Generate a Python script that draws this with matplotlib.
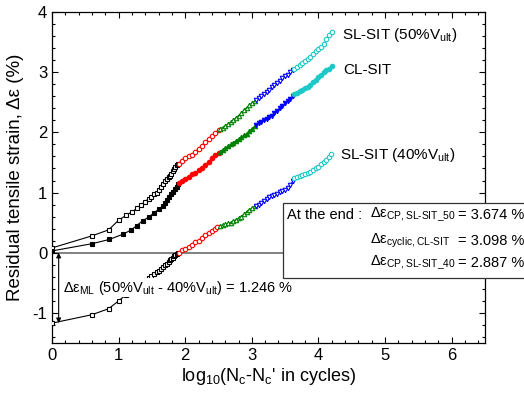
import matplotlib
matplotlib.use("Agg")
import matplotlib.pyplot as plt
from matplotlib.patches import Rectangle
from matplotlib.ticker import MultipleLocator

plt.rcParams['font.family'] = ['Liberation Sans', 'DejaVu Sans']
plt.rcParams['mathtext.fontset'] = 'custom'
plt.rcParams['mathtext.rm'] = 'Liberation Sans'
plt.rcParams['mathtext.it'] = 'Liberation Sans'
plt.rcParams['axes.unicode_minus'] = False

# ---------------- data (log10 cycles, residual strain %) ----------------
sl50_black_x = [0, 0.6, 0.85, 1.0, 1.11, 1.2, 1.28, 1.34, 1.4, 1.45, 1.49, 1.53, 1.57, 1.6, 1.64, 1.67, 1.7, 1.72, 1.75, 1.77, 1.79, 1.81, 1.83, 1.85, 1.87, 1.89]
sl50_black_y = [0.08, 0.28, 0.38, 0.54, 0.62, 0.68, 0.74, 0.80, 0.85, 0.90, 0.93, 0.97, 1.00, 1.05, 1.10, 1.15, 1.19, 1.22, 1.26, 1.28, 1.31, 1.35, 1.39, 1.43, 1.46, 1.48]
sl50_red_x = [1.9, 1.95, 2.0, 2.05, 2.1, 2.15, 2.2, 2.25, 2.3, 2.35, 2.4, 2.45, 2.5]
sl50_red_y = [1.48, 1.53, 1.57, 1.60, 1.63, 1.68, 1.73, 1.78, 1.84, 1.89, 1.94, 1.99, 2.04]
sl50_green_x = [2.52, 2.56, 2.6, 2.64, 2.68, 2.72, 2.76, 2.8, 2.84, 2.88, 2.92, 2.96, 3.0, 3.04]
sl50_green_y = [2.06, 2.08, 2.10, 2.14, 2.17, 2.20, 2.24, 2.28, 2.32, 2.37, 2.41, 2.45, 2.49, 2.52]
sl50_blue_x = [3.06, 3.1, 3.14, 3.18, 3.22, 3.26, 3.3, 3.34, 3.38, 3.42, 3.46, 3.5, 3.54, 3.58, 3.62]
sl50_blue_y = [2.54, 2.57, 2.61, 2.64, 2.67, 2.71, 2.75, 2.78, 2.82, 2.86, 2.90, 2.93, 2.96, 3.00, 3.04]
sl50_cyan_x = [3.64, 3.68, 3.72, 3.76, 3.8, 3.84, 3.88, 3.92, 3.96, 4.0, 4.04, 4.08, 4.12, 4.16, 4.2]
sl50_cyan_y = [3.06, 3.09, 3.12, 3.15, 3.18, 3.22, 3.26, 3.31, 3.35, 3.38, 3.42, 3.47, 3.55, 3.62, 3.674]

cl_black_x = [0, 0.6, 0.86, 1.07, 1.19, 1.27, 1.36, 1.45, 1.53, 1.61, 1.66, 1.7, 1.73, 1.76, 1.79, 1.82, 1.85, 1.87, 1.89]
cl_black_y = [0.03, 0.15, 0.22, 0.31, 0.38, 0.45, 0.53, 0.59, 0.66, 0.73, 0.77, 0.82, 0.87, 0.92, 0.97, 1.01, 1.06, 1.10, 1.15]
cl_red_x = [1.9, 1.95, 2.0, 2.05, 2.1, 2.15, 2.2, 2.25, 2.3, 2.35, 2.4, 2.45, 2.5]
cl_red_y = [1.16, 1.19, 1.23, 1.26, 1.30, 1.33, 1.37, 1.41, 1.46, 1.51, 1.57, 1.62, 1.66]
cl_green_x = [2.52, 2.56, 2.6, 2.64, 2.68, 2.72, 2.76, 2.8, 2.84, 2.88, 2.92, 2.96, 3.0, 3.04]
cl_green_y = [1.68, 1.71, 1.74, 1.77, 1.80, 1.83, 1.86, 1.89, 1.92, 1.95, 1.98, 2.02, 2.06, 2.10]
cl_blue_x = [3.06, 3.1, 3.14, 3.18, 3.22, 3.26, 3.3, 3.34, 3.38, 3.42, 3.46, 3.5, 3.54, 3.58, 3.62]
cl_blue_y = [2.12, 2.15, 2.18, 2.20, 2.23, 2.26, 2.28, 2.32, 2.36, 2.40, 2.44, 2.48, 2.52, 2.56, 2.61]
cl_cyan_x = [3.64, 3.68, 3.72, 3.76, 3.8, 3.84, 3.88, 3.92, 3.96, 4.0, 4.04, 4.08, 4.12, 4.16, 4.2]
cl_cyan_y = [2.63, 2.66, 2.69, 2.71, 2.74, 2.76, 2.79, 2.83, 2.87, 2.92, 2.96, 3.00, 3.03, 3.06, 3.098]

sl40_black_x = [0, 0.6, 0.85, 1.0, 1.11, 1.2, 1.28, 1.34, 1.4, 1.45, 1.49, 1.53, 1.57, 1.6, 1.64, 1.67, 1.7, 1.72, 1.75, 1.77, 1.79, 1.81, 1.83, 1.85, 1.87, 1.89]
sl40_black_y = [-1.17, -1.03, -0.93, -0.80, -0.70, -0.62, -0.55, -0.50, -0.46, -0.42, -0.39, -0.36, -0.32, -0.30, -0.27, -0.24, -0.20, -0.18, -0.15, -0.12, -0.10, -0.08, -0.06, -0.04, -0.02, 0.0]
sl40_red_x = [1.9, 1.95, 2.0, 2.05, 2.1, 2.15, 2.2, 2.25, 2.3, 2.35, 2.4, 2.45, 2.48]
sl40_red_y = [0.0, 0.04, 0.07, 0.10, 0.13, 0.17, 0.20, 0.25, 0.29, 0.32, 0.36, 0.40, 0.43]
sl40_green_x = [2.52, 2.56, 2.6, 2.64, 2.68, 2.72, 2.76, 2.8, 2.84, 2.88, 2.92, 2.96, 3.0, 3.04]
sl40_green_y = [0.45, 0.46, 0.47, 0.49, 0.50, 0.52, 0.55, 0.57, 0.60, 0.64, 0.68, 0.71, 0.74, 0.77]
sl40_blue_x = [3.06, 3.1, 3.14, 3.18, 3.22, 3.26, 3.3, 3.34, 3.38, 3.42, 3.46, 3.5, 3.54, 3.58, 3.62]
sl40_blue_y = [0.78, 0.80, 0.83, 0.86, 0.89, 0.92, 0.94, 0.96, 0.98, 1.01, 1.03, 1.05, 1.08, 1.12, 1.20]
sl40_cyan_x = [3.64, 3.68, 3.72, 3.76, 3.8, 3.84, 3.88, 3.92, 3.96, 4.0, 4.04, 4.08, 4.12, 4.16, 4.19]
sl40_cyan_y = [1.24, 1.26, 1.27, 1.29, 1.30, 1.32, 1.34, 1.37, 1.40, 1.43, 1.47, 1.50, 1.54, 1.59, 1.64]

end_labels = ["\u0394\u03b5$_\\mathrm{CP,SL\\text{-}SIT\\_50}$",
              "\u0394\u03b5$_\\mathrm{cyclic,CL\\text{-}SIT}$",
              "\u0394\u03b5$_\\mathrm{CP,SL\\text{-}SIT\\_40}$"]
end_values = [3.674, 3.098, 2.887]
ml_difference = 1.246

x_ticks = [0, 1, 2, 3, 4, 5, 6]
y_ticks = [-1, 0, 1, 2, 3, 4]

# ---------------- figure ----------------
fig = plt.figure(figsize=(5.24, 3.94), dpi=100)
ax = fig.add_axes([52/524, 1 - 343/394, (485-52)/524, (343-12)/394])
ax.set_xlim(0, 6.5)
ax.set_ylim(-1.5, 4)

ax.axhline(0, color='#808080', lw=1.4, zorder=1)

colors = {'black': 'black', 'red': '#ff0000', 'green': '#008000',
          'blue': '#0000ff', 'cyan': '#1ec8c8'}
markers = {'black': 's', 'red': 'o', 'green': '^', 'blue': 'v', 'cyan': 'o'}

def draw(xs, ys, key, filled, ms=3.2):
    c = colors[key]
    ax.plot(xs, ys, color=c, lw=0.8, marker=markers[key], ms=ms,
            mfc=c if filled else 'white', mec=c, mew=0.8, zorder=3)

for (xs, ys, key) in [(sl50_black_x, sl50_black_y, 'black'), (sl50_red_x, sl50_red_y, 'red'),
                      (sl50_green_x, sl50_green_y, 'green'), (sl50_blue_x, sl50_blue_y, 'blue'),
                      (sl50_cyan_x, sl50_cyan_y, 'cyan')]:
    draw(xs, ys, key, False)
for (xs, ys, key) in [(cl_black_x, cl_black_y, 'black'), (cl_red_x, cl_red_y, 'red'),
                      (cl_green_x, cl_green_y, 'green'), (cl_blue_x, cl_blue_y, 'blue'),
                      (cl_cyan_x, cl_cyan_y, 'cyan')]:
    draw(xs, ys, key, True)
for (xs, ys, key) in [(sl40_black_x, sl40_black_y, 'black'), (sl40_red_x, sl40_red_y, 'red'),
                      (sl40_green_x, sl40_green_y, 'green'), (sl40_blue_x, sl40_blue_y, 'blue'),
                      (sl40_cyan_x, sl40_cyan_y, 'cyan')]:
    draw(xs, ys, key, False)

# ticks
ax.set_xticks(x_ticks)
ax.set_yticks(y_ticks)
ax.xaxis.set_minor_locator(MultipleLocator(0.2))
ax.yaxis.set_minor_locator(MultipleLocator(0.2))
ax.tick_params(which='both', direction='in', top=True, right=True, labelsize=12)
ax.tick_params(which='major', length=4, width=0.8)
ax.tick_params(which='minor', length=2.5, width=0.8)
for s in ax.spines.values():
    s.set_linewidth(0.9)

ax.set_xlabel("log$_{10}$(N$_\\mathrm{c}$-N$_\\mathrm{c}$' in cycles)", fontsize=13, labelpad=2)
ax.set_ylabel("Residual tensile strain, \u0394\u03b5 (%)", fontsize=13.5, labelpad=6)

# series labels
ax.text(4.35, 3.61, "SL-SIT (50%V$_\\mathrm{ult}$)", fontsize=11, va='center', ha='left')
ax.text(4.37, 3.03, "CL-SIT", fontsize=11, va='center', ha='left')
ax.text(4.33, 1.62, "SL-SIT (40%V$_\\mathrm{ult}$)", fontsize=11, va='center', ha='left')

# arrow for ML difference
ax.annotate('', xy=(0.1, 0.0), xytext=(0.1, sl40_black_y[0]),
            arrowprops=dict(arrowstyle='<|-|>', color='black', lw=0.8,
                            mutation_scale=7, shrinkA=0, shrinkB=0), zorder=4)
ml_text = ("\u0394\u03b5$_\\mathrm{ML}$ (50%V$_\\mathrm{ult}$ - 40%V$_\\mathrm{ult}$) = "
           + "{:.3f} %".format(ml_difference))
ax.text(0.16, -0.58, ml_text, fontsize=10.5, va='center', ha='left', zorder=5,
        bbox=dict(facecolor='white', edgecolor='none', pad=0.5))

# end-value box
box = Rectangle((3.47, -0.42), 4.0, 1.25, facecolor='white', edgecolor='#333333',
                lw=0.9, clip_on=False, zorder=6)
ax.add_patch(box)
ax.text(3.53, 0.62, "At the end :", fontsize=10.5, va='center', ha='left', zorder=7)
for lab, val, yy in zip(end_labels, end_values, [0.62, 0.20, -0.17]):
    ax.text(4.77, yy, lab, fontsize=10.5, va='center', ha='left', zorder=7)
    ax.text(6.09, yy, "= {:.3f} %".format(val), fontsize=10.5, va='center', ha='left',
            zorder=7, clip_on=False)

fig.savefig("out.png", dpi=100)
